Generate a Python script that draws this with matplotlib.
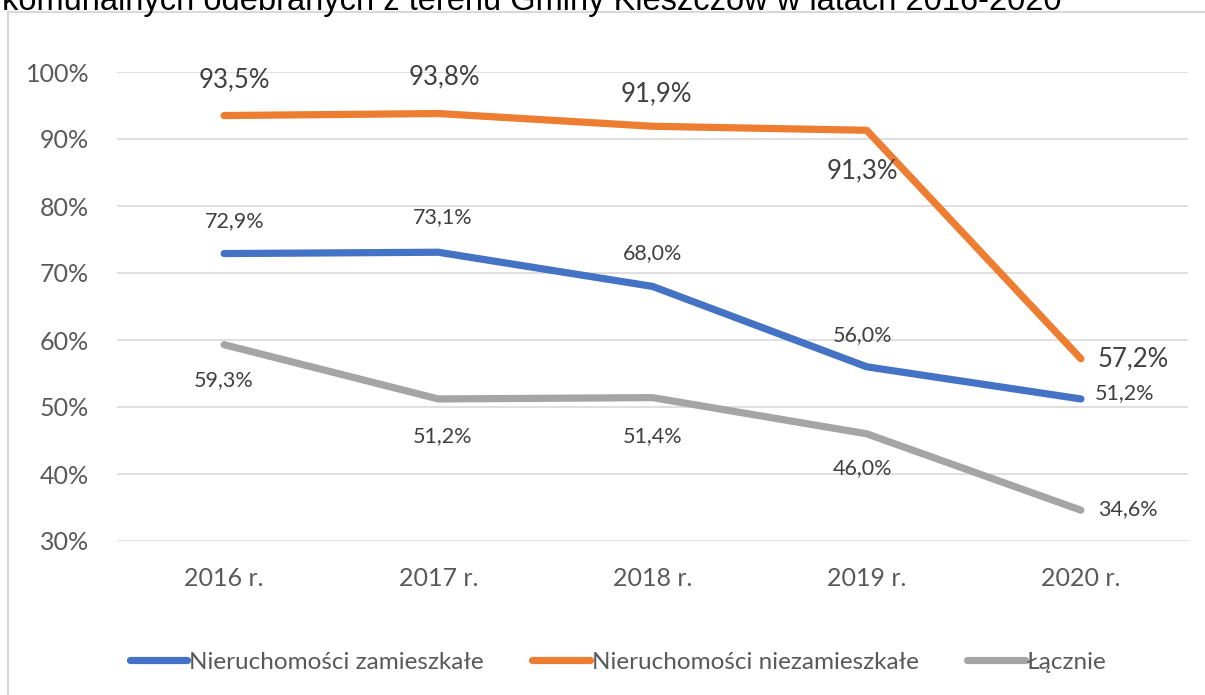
import matplotlib.pyplot as plt
from matplotlib.patches import Rectangle

# data
years = ['2016 r.', '2017 r.', '2018 r.', '2019 r.', '2020 r.']
zamieszkale = [72.9, 73.1, 68.0, 56.0, 51.2]
niezamieszkale = [93.5, 93.8, 91.9, 91.3, 57.2]
lacznie = [59.3, 51.2, 51.4, 46.0, 34.6]
series_names = ['Nieruchomości zamieszkałe', 'Nieruchomości niezamieszkałe', 'Łącznie']
title = 'komunalnych odebranych z terenu Gminy Kleszczów w latach 2016-2020'

plt.rcParams['font.family'] = ['Lato', 'DejaVu Sans']

fig = plt.figure(figsize=(12.05, 6.95), dpi=100)
ax = fig.add_axes([117 / 1205, 1 - 541 / 695, (1188 - 117) / 1205, (541 - 72) / 695])

# chart frame (cut at the right and bottom, like the source)
fig.patches.append(Rectangle((8 / 1205, -0.1), 1.1, 1 - 12 / 695 + 0.1, transform=fig.transFigure,
                             fill=False, edgecolor='#d9d9d9', linewidth=1.5))
# title line of the document, mostly cut at the top edge
fig.text(2 / 1205, 1 - 10 / 695, title, fontsize=23.5, family='Liberation Sans', color='black',
         va='baseline', ha='left')

x = range(len(years))
colors = ['#4472C4', '#ED7D31', '#A5A5A5']
for vals, col, name in zip([zamieszkale, niezamieszkale, lacznie], colors, series_names):
    ax.plot(x, vals, color=col, linewidth=5.2, solid_capstyle='round', solid_joinstyle='round', label=name)

lab_col = '#404040'


def fmt(v):
    return f'{v:.1f}%'.replace('.', ',')


# data labels: (dx in categories, dy in percent points)
off_o = [(0.05, 5.3), (0.03, 5.5), (0.02, 4.8), (-0.02, -6.0), (0.08, 0.0)]
for i, (v, (dx, dy)) in enumerate(zip(niezamieszkale, off_o)):
    ax.text(i + dx, v + dy, fmt(v), fontsize=18.5, color=lab_col,
            ha='left' if i == 4 else 'center', va='center')
off_b = [(0.05, 4.9), (0.02, 5.3), (0.0, 4.9), (-0.02, 4.8), (0.065, 0.9)]
for i, (v, (dx, dy)) in enumerate(zip(zamieszkale, off_b)):
    ax.text(i + dx, v + dy, fmt(v), fontsize=15.5, color=lab_col,
            ha='left' if i == 4 else 'center', va='center')
off_g = [(0.0, -5.3), (0.02, -5.5), (0.0, -5.7), (-0.02, -5.1), (0.08, 0.1)]
for i, (v, (dx, dy)) in enumerate(zip(lacznie, off_g)):
    ax.text(i + dx, v + dy, fmt(v), fontsize=15.5, color=lab_col,
            ha='left' if i == 4 else 'center', va='center')

ax.set_xlim(-0.5, 4.5)
ax.set_ylim(30, 100)
ax.set_yticks(range(30, 101, 10))
ax.set_yticklabels([f'{t}%' for t in range(30, 101, 10)])
ax.set_xticks(list(x))
ax.set_xticklabels(years)
ax.tick_params(axis='both', length=0, labelsize=18, colors='#595959')
ax.tick_params(axis='x', pad=19)
ax.tick_params(axis='y', pad=20)
ax.grid(axis='y', color='#d9d9d9', linewidth=1.2)
ax.set_axisbelow(True)
for s in ax.spines.values():
    s.set_visible(False)

fig.legend(loc='center', bbox_to_anchor=(0.513, 1 - 662 / 695), ncol=3, frameon=False,
           fontsize=17.5, labelcolor='#595959', handlelength=2.35, handletextpad=0.1,
           columnspacing=2.0)

fig.savefig('out.png', dpi=100)
